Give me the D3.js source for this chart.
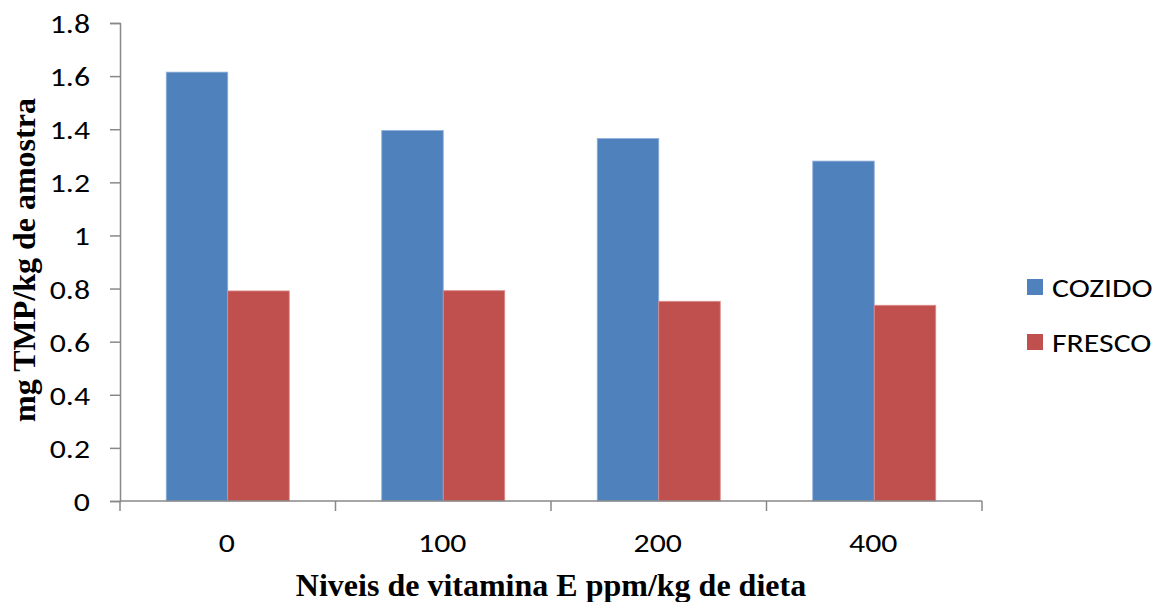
<!DOCTYPE html>
<html>
<head>
<meta charset="utf-8">
<script src="https://cdn.jsdelivr.net/npm/d3@7"></script>
<style>
  html, body { margin: 0; padding: 0; background: #fff; }
  svg { display: block; }
</style>
</head>
<body>
<svg id="chart" width="1162" height="602"></svg>
<script>
// Vitamin E levels (ppm/kg of diet) on the x axis
const categories = ["0", "100", "200", "400"];
const seriesNames = ["COZIDO", "FRESCO"];
// mg TMP per kg of sample
const cozido = [1.615, 1.395, 1.365, 1.28];
const fresco = [0.791, 0.792, 0.752, 0.737];
const yTicks = [0, 0.2, 0.4, 0.6, 0.8, 1, 1.2, 1.4, 1.6, 1.8];
const colors = ["#4F81BD", "#C0504D"];
const borders = ["#8FAEDA", "#DC8C8A"];

const svg = d3.select("#chart");
const plot = { left: 120, right: 982, top: 23, bottom: 501 };
const tickFont = "Carlito, Calibri, Lato, sans-serif";
const tickSize = 26.5;
const widen = "scale(1.2,1)";   // labels are set slightly wide

const x = d3.scaleBand().domain(categories).range([plot.left, plot.right]).padding(0);
const xInner = d3.scaleBand().domain(seriesNames).range([0, x.bandwidth()])
  .paddingInner(0).paddingOuter(0.752);
const y = d3.scaleLinear().domain([0, 1.8]).range([plot.bottom, plot.top]);

const rows = categories.map((c, i) => ({ cat: c, values: [cozido[i], fresco[i]] }));

// Bars
const groups = svg.append("g").selectAll("g").data(rows).join("g")
  .attr("transform", d => `translate(${x(d.cat)},0)`);
groups.selectAll("rect")
  .data(d => d.values.map((v, k) => ({ key: seriesNames[k], v, k })))
  .join("rect")
  .attr("x", d => xInner(d.key))
  .attr("width", xInner.bandwidth())
  .attr("y", d => y(d.v))
  .attr("height", d => y(0) - y(d.v))
  .attr("fill", d => colors[d.k])
  .attr("stroke", d => borders[d.k])
  .attr("stroke-width", 0.8);

const axisColor = "#888888";

// Y axis
const yAxis = svg.append("g").attr("transform", `translate(${plot.left},0)`)
  .call(d3.axisLeft(y).tickValues(yTicks).tickSize(10).tickPadding(19)
    .tickFormat(d => String(d)));
yAxis.select(".domain").attr("stroke", axisColor).attr("stroke-width", 1.5);
yAxis.selectAll(".tick line").attr("stroke", axisColor).attr("stroke-width", 1.5);
yAxis.selectAll(".tick text")
  .attr("x", 0)
  .attr("transform", `translate(-30,0) ${widen}`)
  .attr("font-family", tickFont).attr("font-size", tickSize).attr("fill", "#000")
  .attr("dy", "0.36em");

// X axis with ticks between categories
const xAxisG = svg.append("g").attr("transform", `translate(0,${plot.bottom})`);
xAxisG.append("line")
  .attr("x1", plot.left).attr("x2", plot.right)
  .attr("stroke", axisColor).attr("stroke-width", 1.5);
const boundaries = categories.map(c => x(c)).concat([x(categories[categories.length - 1]) + x.bandwidth()]);
xAxisG.selectAll(".xtick").data(boundaries).join("line")
  .attr("class", "xtick")
  .attr("x1", d => d).attr("x2", d => d)
  .attr("y1", 0).attr("y2", 10)
  .attr("stroke", axisColor).attr("stroke-width", 1.5);
xAxisG.selectAll(".xlabel").data(categories).join("text")
  .attr("class", "xlabel")
  .attr("transform", d => `translate(${x(d) + x.bandwidth() / 2 - 1},51) ${widen}`)
  .attr("text-anchor", "middle")
  .attr("font-family", tickFont).attr("font-size", tickSize).attr("fill", "#000")
  .text(d => d);

// Axis titles
svg.append("text")
  .attr("x", (plot.left + plot.right) / 2)
  .attr("y", 596)
  .attr("text-anchor", "middle")
  .attr("font-family", "'Liberation Serif', 'Times New Roman', serif")
  .attr("font-weight", "bold").attr("font-size", 32)
  .text("Niveis de vitamina E ppm/kg de dieta");

svg.append("text")
  .attr("transform", `translate(35,260) rotate(-90)`)
  .attr("text-anchor", "middle")
  .attr("font-family", "'Liberation Serif', 'Times New Roman', serif")
  .attr("font-weight", "bold").attr("font-size", 32)
  .text("mg TMP/kg de amostra");

// Legend
const legend = svg.append("g").attr("transform", "translate(1027,279)");
const items = legend.selectAll("g").data(seriesNames).join("g")
  .attr("transform", (d, i) => `translate(0,${i * 55})`);
items.append("rect")
  .attr("width", 16).attr("height", 16)
  .attr("fill", (d, i) => colors[i]);
items.append("text")
  .attr("transform", `translate(25,8) ${widen}`)
  .attr("dy", "0.36em")
  .attr("font-family", tickFont).attr("font-size", tickSize).attr("fill", "#000")
  .text(d => d);
</script>
</body>
</html>
